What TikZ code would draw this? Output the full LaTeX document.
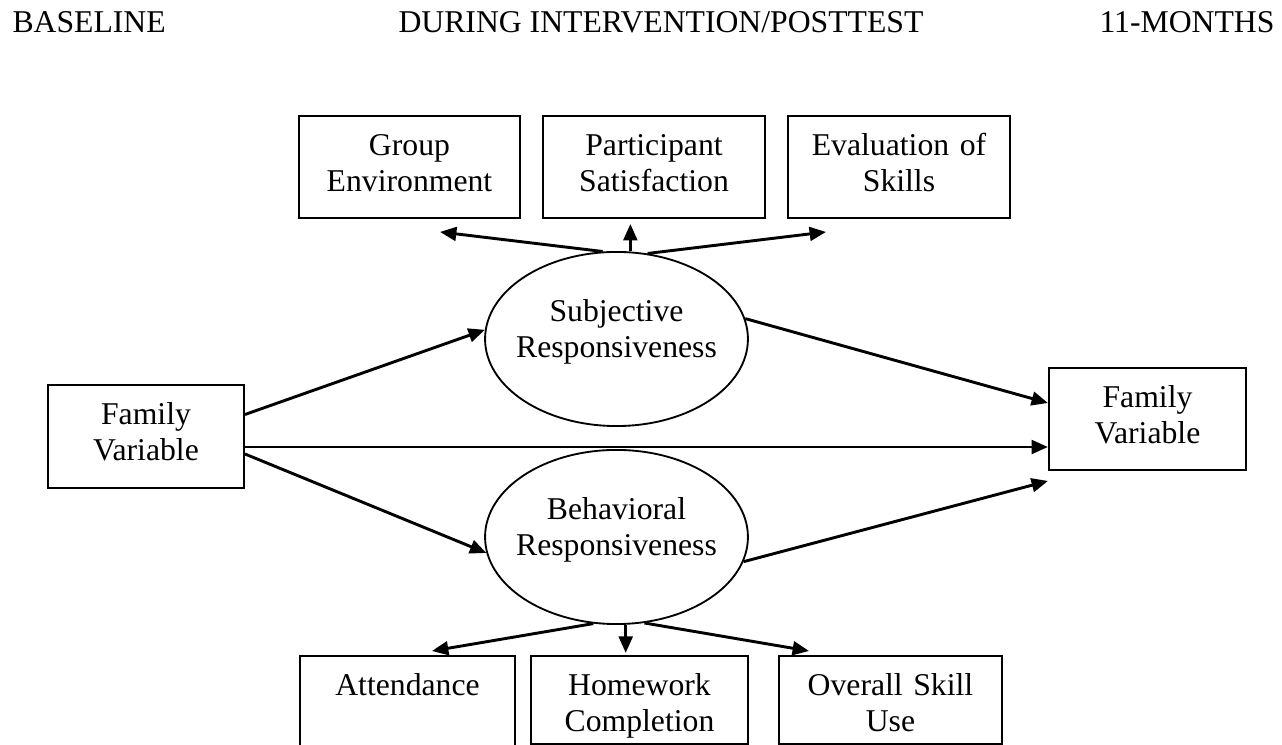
\documentclass[tikz,border=0pt]{standalone}
\usepackage{fontspec}
\setmainfont{Liberation Serif}
\usetikzlibrary{arrows.meta,positioning,calc,shapes.geometric}
\newcommand{\diagfont}{\fontsize{12pt}{13.6pt}\selectfont}

\begin{document}
\begin{tikzpicture}[x=0.3785pt, y=-0.3785pt,
    every node/.style={font=\diagfont, inner sep=0pt},
    varbox/.style 2 args={draw, line width=0.75pt, align=center, anchor=north,
        text width=#1, text height=15.1pt, text depth=#2},
    latent/.style={draw, ellipse, line width=0.7pt, align=center, inner xsep=-2.9pt,
        text width=76pt, text height=8pt, text depth=20.9pt,
        minimum width=99.5pt, minimum height=65.9pt},
    arr/.style={line width=1.1pt, -{Triangle[length=6.2pt,width=5.2pt]}},
    heading/.style={anchor=base west}]
\useasboundingbox (0,0) rectangle (1282,745);
\clip (0,0) rectangle (1282,745);

% time points
\node[heading] (hbase) at (12,33) {BASELINE};
\node[heading] (hmid) at (398,33) {DURING INTERVENTION/POSTTEST};
\node[heading, anchor=base east] (hend) at (1275,33) {11-MONTHS};

% subjective indicators
\node[varbox={83.6pt}{23.5pt}] (grp) at (409.5,115) {Group\\Environment};
\node[varbox={84pt}{23.5pt}] (part) at (654,115) {Participant\\Satisfaction};
\node[varbox={84pt}{23.5pt}] (eval) at (899,115) {Evaluation of\\Skills};

% responsiveness
\node[latent] (subj) at (616.5,339) {Subjective\\Responsiveness};
\node[latent] (beh) at (616.5,537) {Behavioral\\Responsiveness};

% family variable, baseline and follow-up
\node[varbox={74.2pt}{23.9pt}] (famL) at (146,384) {Family\\Variable};
\node[varbox={74.6pt}{23.5pt}] (famR) at (1147.5,367) {Family\\Variable};

% behavioral indicators
\node[varbox={81.4pt}{20.9pt}] (att) at (407.5,655) {Attendance};
\node[varbox={82.1pt}{18.2pt}] (hw) at (639.5,655) {Homework\\Completion};
\node[varbox={84.4pt}{18.2pt}] (ovr) at (890.5,655) {Overall Skill\\Use};

% paths
\draw[arr] ($(famL.east)+(0,-22)$) -- (subj.176);
\coordinate (hstart) at ($(famL.east)+(0,10.5)$);
\draw[arr] (hstart) -- (hstart -| famR.west);
\draw[arr] ($(famL.east)+(0,17.5)$) -- (beh.187);
\draw[arr] (subj.9) -- ($(famR.west)+(0,-16)$);
\draw[arr] (beh.-11) -- ($(famR.west)+(0,62)$);

\draw[arr] (subj.99) -- ($(grp.south)+(30.5,13)$);
\draw[arr, shorten >=1.9pt] (subj.81) -- (subj.81 |- part.south);
\draw[arr] (subj.70) -- ($(eval.south)+(-73,13)$);

\draw[arr] (beh.255) -- ($(att.north)+(24.5,-4)$);
\draw[arr, shorten >=0.8pt] (beh.276) -- (beh.276 |- hw.north);
\draw[arr] (beh.288) -- ($(ovr.north)+(-81.5,-4)$);
\end{tikzpicture}
\end{document}
